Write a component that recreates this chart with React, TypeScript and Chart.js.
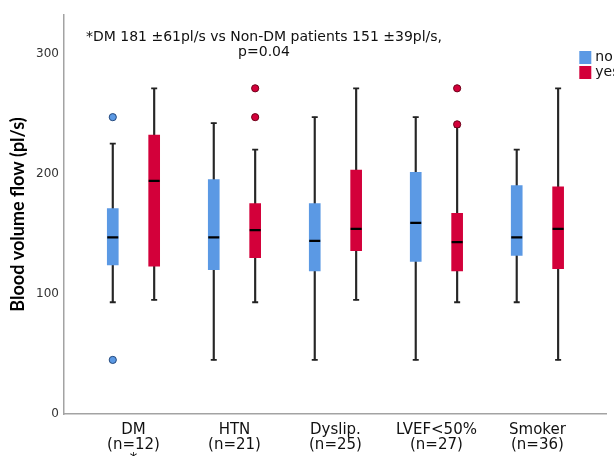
import React, { useEffect, useRef } from "react";
import Chart from "chart.js/auto";

const categories = ["DM", "HTN", "Dyslip.", "LVEF<50%", "Smoker"];
const nCounts = [12, 21, 25, 27, 36];
const yTicks = [0, 100, 200, 300];

// "no" group
const noMin = [93, 45, 45, 45, 93];
const noQ1 = [124, 120, 119, 127, 132];
const noMed = [147, 147, 144, 159, 147];
const noQ3 = [171, 195, 175, 201, 190];
const noMax = [225, 242, 247, 247, 220];
const noOutliers = [[247, 45], [], [], [], []];

// "yes" group
const yesMin = [95, 93, 95, 93, 45];
const yesQ1 = [123, 130, 136, 119, 121];
const yesMed = [194, 153, 154, 143, 154];
const yesQ3 = [232, 175, 203, 167, 189];
const yesMax = [271, 220, 271, 239, 271];
const yesOutliers = [[], [271, 247], [], [271, 241], []];

const annotationLines = ["*DM 181 \u00b161pl/s vs Non-DM patients 151 \u00b139pl/s,", "p=0.04"];
const groupNames = ["no", "yes"];

const BLUE = "#5b99e4";
const RED = "#d3003a";
const OFF = 0.205;

export default function App() {
  const ref = useRef<HTMLCanvasElement>(null);

  useEffect(() => {
    if (!ref.current) return;
    const groups = [
      { name: groupNames[0], color: BLUE, edge: "#24497d", off: -OFF, min: noMin, q1: noQ1, med: noMed, q3: noQ3, max: noMax, out: noOutliers },
      { name: groupNames[1], color: RED, edge: "#6e0019", off: OFF, min: yesMin, q1: yesQ1, med: yesMed, q3: yesQ3, max: yesMax, out: yesOutliers },
    ];
    const datasets: any[] = [];
    groups.forEach((g) => {
      datasets.push({
        type: "bar",
        label: g.name + "-whisker",
        data: categories.map((_, i) => ({ x: i + 1 + g.off, y: [g.min[i], g.max[i]] })),
        backgroundColor: "#262626",
        barThickness: 1.5,
        grouped: false,
        order: 6,
      });
      datasets.push({
        type: "bar",
        label: g.name,
        data: categories.map((_, i) => ({ x: i + 1 + g.off, y: [g.q1[i], g.q3[i]] })),
        backgroundColor: g.color,
        barThickness: 11,
        grouped: false,
        order: 5,
      });
      datasets.push({
        type: "scatter",
        label: g.name + "-caps",
        data: categories.flatMap((_, i) => [
          { x: i + 1 + g.off, y: g.min[i] },
          { x: i + 1 + g.off, y: g.max[i] },
        ]),
        pointStyle: "line",
        radius: 3,
        borderWidth: 1.8,
        borderColor: "#222",
        order: 4,
      });
      datasets.push({
        type: "scatter",
        label: g.name + "-median",
        data: categories.map((_, i) => ({ x: i + 1 + g.off, y: g.med[i] })),
        pointStyle: "line",
        radius: 5.5,
        borderWidth: 2.2,
        borderColor: "#000",
        order: 3,
      });
      datasets.push({
        type: "scatter",
        label: g.name + "-outliers",
        data: categories.flatMap((_, i) => g.out[i].map((v) => ({ x: i + 1 + g.off, y: v }))),
        pointStyle: "circle",
        radius: 3.6,
        borderWidth: 1,
        backgroundColor: g.color,
        borderColor: g.edge,
        order: 2,
      });
    });

    const overlay = {
      id: "overlay",
      afterDraw(chart: any) {
        const { ctx, chartArea } = chart;
        ctx.save();
        ctx.fillStyle = "#111";
        ctx.font = '14px "DejaVu Sans"';
        ctx.textAlign = "center";
        ctx.textBaseline = "middle";
        const cx = chartArea.left + 200;
        annotationLines.forEach((t, k) => ctx.fillText(t, cx, chartArea.top + 22 + k * 15));
        // legend
        ctx.textAlign = "left";
        ctx.font = '14px "DejaVu Sans"';
        groups.forEach((g, k) => {
          const y = chartArea.top + 36 + k * 15;
          ctx.fillStyle = g.color;
          ctx.fillRect(chartArea.right - 27, y, 12, 13);
          ctx.fillStyle = "#111";
          ctx.fillText(g.name, chartArea.right - 11, y + 6);
        });
        ctx.restore();
      },
    };

    const chart = new Chart(ref.current, {
      type: "bar",
      data: { datasets },
      plugins: [overlay],
      options: {
        animation: false,
        responsive: true,
        maintainAspectRatio: false,
        layout: { padding: { top: 15, right: 6, left: 0, bottom: 0 } },
        plugins: { legend: { display: false }, tooltip: { enabled: false } },
        scales: {
          x: {
            type: "linear",
            min: 0.312,
            max: 5.682,
            offset: false,
            grid: { display: false, drawTicks: false },
            border: { display: true, color: "#a3a3a3", width: 1.5 },
            afterBuildTicks: (s: any) => {
              s.ticks = categories.map((_, i) => ({ value: i + 1 }));
            },
            afterFit: (s: any) => {
              s.height = 42;
            },
            ticks: {
              autoSkip: false,
              maxRotation: 0,
              minRotation: 0,
              padding: 9,
              color: "#111",
              font: { family: "DejaVu Sans", size: 15, lineHeight: 1 },
              callback: (_v: any, i: number) =>
                i === 0 ? [categories[i], "(n=" + nCounts[i] + ")", "*"] : [categories[i], "(n=" + nCounts[i] + ")"],
            },
          },
          y: {
            type: "linear",
            min: 0,
            max: 332,
            grid: { display: false, drawTicks: false },
            border: { display: true, color: "#a3a3a3", width: 1.5 },
            afterBuildTicks: (s: any) => {
              s.ticks = yTicks.map((v) => ({ value: v }));
            },
            afterFit: (s: any) => {
              s.width = 64;
            },
            ticks: {
              padding: 5,
              color: "#333",
              font: { family: "DejaVu Sans", size: 12 },
            },
            title: {
              display: true,
              text: "Blood volume flow (pl/s)",
              color: "#000",
              font: { family: "Lato", size: 18, weight: "bold" },
              padding: { top: 7, bottom: 0 },
            },
          },
        },
      },
    });
    return () => chart.destroy();
  }, []);

  return (
    <div style={{ position: "fixed", left: 0, top: 0, width: 614, height: 456, background: "#fff" }}>
      <canvas ref={ref} />
    </div>
  );
}
